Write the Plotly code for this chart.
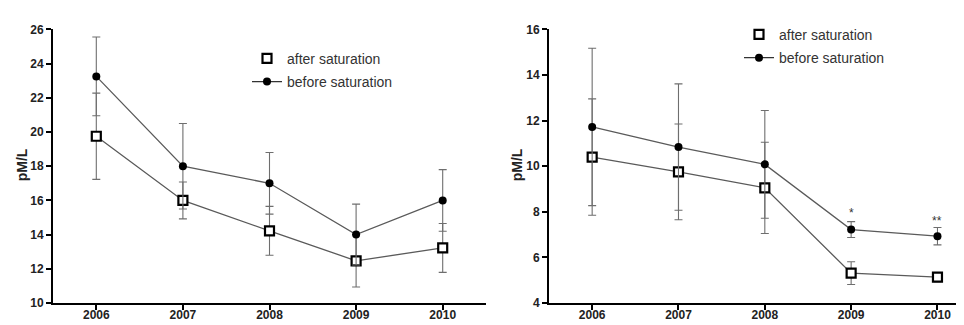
import plotly.graph_objects as go

years = [2006, 2007, 2008, 2009, 2010]

# Left panel
left_before = [23.25, 18.0, 17.0, 14.0, 16.0]
left_before_err = [2.3, 2.5, 1.8, 1.78, 1.8]
left_after = [19.75, 16.0, 14.22, 12.47, 13.22]
left_after_err = [2.52, 1.08, 1.43, 1.53, 1.43]

# Right panel
right_before = [11.72, 10.84, 10.08, 7.22, 6.93]
right_before_err = [3.45, 2.77, 2.36, 0.35, 0.38]
right_after = [10.40, 9.75, 9.05, 5.31, 5.14]
right_after_err = [2.55, 2.1, 2.0, 0.5, 0.2]

sig_years = [2009, 2010]
sig_labels = ["*", "**"]
sig_y = [7.95, 7.6]

y_title = "pM/L"
name_after = "after saturation"
name_before = "before saturation"

W, H = 964, 325
LINE = "#5a5a5a"
ERR = "#6e6e6e"
FONT = "Liberation Sans, Arial, sans-serif"

fig = go.Figure()


def add_panel(xa, ya, before, berr, after, aerr, legend):
    fig.add_trace(go.Scatter(
        x=years, y=after, xaxis=xa, yaxis=ya, mode="lines+markers",
        line=dict(color=LINE, width=1.3),
        marker=dict(symbol="square", size=9, color="white",
                    line=dict(color="black", width=2.2)),
        error_y=dict(type="data", array=aerr, visible=True, color=ERR,
                     thickness=1.1, width=4),
        showlegend=False, cliponaxis=False))
    fig.add_trace(go.Scatter(
        x=years, y=before, xaxis=xa, yaxis=ya, mode="lines+markers",
        line=dict(color=LINE, width=1.3),
        marker=dict(symbol="circle", size=8, color="black"),
        error_y=dict(type="data", array=berr, visible=True, color=ERR,
                     thickness=1.1, width=4),
        showlegend=False, cliponaxis=False))
    # legend entries
    fig.add_trace(go.Scatter(
        x=[None], y=[None], xaxis=xa, yaxis=ya, mode="markers", name=name_after,
        marker=dict(symbol="square", size=9, color="white",
                    line=dict(color="black", width=2.2)),
        legend=legend, legendgroup="a"))
    fig.add_trace(go.Scatter(
        x=[None], y=[None], xaxis=xa, yaxis=ya, mode="lines+markers", name=name_before,
        line=dict(color="#333333", width=1.3),
        marker=dict(symbol="circle", size=8, color="black"),
        legend=legend, legendgroup="b"))


add_panel("x", "y", left_before, left_before_err, left_after, left_after_err, "legend")
add_panel("x2", "y2", right_before, right_before_err, right_after, right_after_err, "legend2")

for lbl, xv, yv in zip(sig_labels, sig_years, sig_y):
    fig.add_annotation(x=xv, y=yv, xref="x2", yref="y2", text=lbl, showarrow=False,
                       font=dict(family=FONT, size=12, color="#333"))

ydom = [1 - 301 / H, 1 - 15 / H]
axis_common = dict(
    showgrid=False, zeroline=False, showline=True, linecolor="black", linewidth=2,
    ticks="outside", ticklen=5, tickwidth=1.5, tickcolor="black",
    tickfont=dict(family=FONT, size=12, color="#222", weight="bold"),
)
legend_common = dict(xanchor="left", yanchor="top", bgcolor="rgba(0,0,0,0)",
                     traceorder="grouped", tracegroupgap=2,
                     font=dict(family=FONT, size=14, color="#333"))
fig.update_layout(
    width=W, height=H, margin=dict(l=0, r=0, t=0, b=0),
    paper_bgcolor="white", plot_bgcolor="white",
    xaxis=dict(domain=[45 / W, 478 / W], range=[2005.5, 2010.5], tickvals=years,
               anchor="y", ticklabelstandoff=-5, **axis_common),
    yaxis=dict(domain=ydom, range=[10, 26], dtick=2, anchor="x", **axis_common),
    xaxis2=dict(domain=[541 / W, 1.0], range=[2005.5, 2010.4], tickvals=years,
                anchor="y2", ticklabelstandoff=-5, **axis_common),
    yaxis2=dict(domain=ydom, range=[4, 16], dtick=2, anchor="x2", **axis_common),
    legend=dict(x=239 / W, y=1 - 29 / H, **legend_common),
    legend2=dict(x=731 / W, y=1 - 4 / H, **legend_common),
)

fig.add_annotation(x=14 / W, y=1 - 157 / H, xref="paper", yref="paper", text=y_title,
                   textangle=-90, showarrow=False, xanchor="center", yanchor="middle",
                   font=dict(family=FONT, size=14, color="#222", weight="bold"))
fig.add_annotation(x=509 / W, y=1 - 157 / H, xref="paper", yref="paper", text=y_title,
                   textangle=-90, showarrow=False, xanchor="center", yanchor="middle",
                   font=dict(family=FONT, size=14, color="#222", weight="bold"))

fig.write_html("out.html")
